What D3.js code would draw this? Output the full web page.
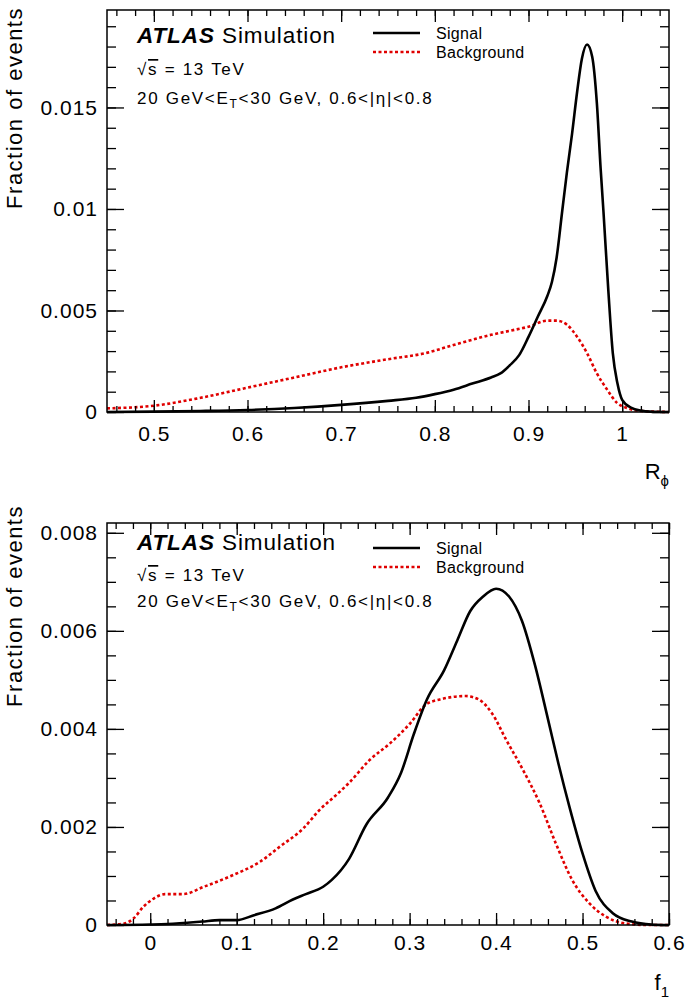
<!DOCTYPE html>
<html>
<head>
<meta charset="utf-8">
<script src="https://cdn.jsdelivr.net/npm/d3@7"></script>
<style>
body { margin: 0; background: #fff; }
text { font-family: "Liberation Sans", Arial, sans-serif; fill: #000; }
</style>
</head>
<body>
<script>
// ---- R_phi panel (top) ----
const rphiSignalX = [0.45, 0.5, 0.55, 0.6, 0.65, 0.7, 0.75, 0.78, 0.8, 0.82, 0.84, 0.86, 0.87, 0.88, 0.89, 0.9, 0.91, 0.92, 0.925, 0.93, 0.936, 0.941, 0.9465, 0.952, 0.957, 0.9625, 0.968, 0.973, 0.977, 0.98, 0.9852, 0.99, 0.995, 1.0, 1.01, 1.02, 1.03, 1.05];
const rphiSignalY = [0, 0.00002, 0.00005, 0.0001, 0.0002, 0.00035, 0.00055, 0.0007, 0.00088, 0.0011, 0.0014, 0.0017, 0.0019, 0.0023, 0.0028, 0.0037, 0.0047, 0.0057, 0.0064, 0.0076, 0.0099, 0.0118, 0.0137, 0.0158, 0.0174, 0.0181, 0.0175, 0.0152, 0.012, 0.0099, 0.006, 0.0029, 0.0014, 0.0006, 0.0002, 0.00007, 0.00002, 0];
const rphiBkgX = [0.45, 0.5, 0.55, 0.6, 0.65, 0.7, 0.75, 0.79, 0.82, 0.86, 0.88, 0.9, 0.92, 0.93, 0.941, 0.952, 0.9625, 0.973, 0.984, 0.9945, 1.005, 1.02, 1.05];
const rphiBkgY = [0.00018, 0.00031, 0.0007, 0.0012, 0.0017, 0.0022, 0.0026, 0.0029, 0.0033, 0.0038, 0.004, 0.0042, 0.0045, 0.0045, 0.0043, 0.0037, 0.0029, 0.0019, 0.0011, 0.00045, 0.0002, 0.00005, 0];
const rphiTicks = [0.5, 0.6, 0.7, 0.8, 0.9, 1];
const rphiTickLabels = ["0.5", "0.6", "0.7", "0.8", "0.9", "1"];
const rphiYTicks = [0, 0.005, 0.01, 0.015];
const rphiYTickLabels = ["0", "0.005", "0.01", "0.015"];

// ---- f1 panel (bottom) ----
const f1SignalX = [-0.05, 0, 0.02, 0.06, 0.08, 0.1, 0.12, 0.145, 0.165, 0.18, 0.2, 0.21, 0.23, 0.25, 0.275, 0.29, 0.305, 0.32, 0.34, 0.355, 0.37, 0.385, 0.4, 0.415, 0.43, 0.445, 0.46, 0.472, 0.485, 0.5, 0.515, 0.535, 0.557, 0.58, 0.6];
const f1SignalY = [0, 0.00001, 0.00002, 0.00007, 0.0001, 0.0001, 0.0002, 0.00034, 0.00052, 0.00063, 0.00078, 0.00092, 0.00135, 0.00205, 0.0026, 0.0031, 0.0039, 0.0046, 0.0052, 0.0058, 0.0064, 0.0067, 0.00686, 0.0067, 0.0062, 0.0053, 0.0042, 0.0033, 0.0024, 0.00146, 0.0007, 0.00024, 0.00007, 0.00001, 0];
const f1BkgX = [-0.05, -0.03, -0.019, -0.008, 0.004, 0.017, 0.038, 0.062, 0.096, 0.127, 0.15, 0.177, 0.196, 0.215, 0.23, 0.254, 0.277, 0.3, 0.319, 0.335, 0.365, 0.38, 0.396, 0.411, 0.43, 0.45, 0.469, 0.488, 0.508, 0.527, 0.55, 0.575, 0.6];
const f1BkgY = [0, 0.00003, 0.00014, 0.00037, 0.00054, 0.00063, 0.00063, 0.00078, 0.00102, 0.00129, 0.0016, 0.00197, 0.00235, 0.00265, 0.0029, 0.00337, 0.0037, 0.0041, 0.0045, 0.0046, 0.00467, 0.0046, 0.0043, 0.0038, 0.0032, 0.0025, 0.00167, 0.00092, 0.00044, 0.00017, 0.00003, 0, 0];
const f1Ticks = [0, 0.1, 0.2, 0.3, 0.4, 0.5, 0.6];
const f1TickLabels = ["0", "0.1", "0.2", "0.3", "0.4", "0.5", "0.6"];
const f1YTicks = [0, 0.002, 0.004, 0.006, 0.008];
const f1YTickLabels = ["0", "0.002", "0.004", "0.006", "0.008"];

const seriesNames = ["Signal", "Background"];

const W = 685, H = 1003;
const left = 107, right = 669;
const red = "#e00000";

const svg = d3.select("body").append("svg")
    .attr("width", W).attr("height", H)
    .style("display", "block");

function minorRange(domain, step) {
    const a = Math.ceil(domain[0] / step - 1e-6), b = Math.floor(domain[1] / step + 1e-6);
    return d3.range(a, b + 1).map(i => +(i * step).toFixed(6));
}

function styleAxis(g, size) {
    g.select(".domain").remove();
    g.selectAll("line").attr("stroke", "#000").attr("stroke-width", 1.3);
    g.selectAll("text")
        .attr("font-family", "Liberation Sans, Arial, sans-serif")
        .attr("font-size", size)
        .style("letter-spacing", "1px")
        .attr("fill", "#000");
}

function drawPanel(p) {
    const x = d3.scaleLinear().domain(p.xDomain).range([left, right]);
    const y = d3.scaleLinear().domain(p.yDomain).range([p.bottom, p.top]);
    const g = svg.append("g");

    // curves
    const line = d3.line().x(d => x(d[0])).y(d => y(d[1])).curve(d3.curveMonotoneX);
    const bkg = p.bkgX.map((v, i) => [v, p.bkgY[i]]);
    const sig = p.sigX.map((v, i) => [v, p.sigY[i]]);
    g.append("path").datum(bkg).attr("d", line)
        .attr("fill", "none").attr("stroke", red).attr("stroke-width", 2.6)
        .attr("stroke-dasharray", "3,2.5");
    g.append("path").datum(sig).attr("d", line)
        .attr("fill", "none").attr("stroke", "#000").attr("stroke-width", 2.6);

    // x axis ticks, bottom with labels
    const xMinor = minorRange(p.xDomain, p.xMinorStep);
    g.append("g").attr("transform", `translate(0,${p.bottom})`)
        .call(d3.axisBottom(x).tickValues(p.xTicks)
            .tickFormat(d => p.xLabels[p.xTicks.indexOf(d)])
            .tickSizeInner(-12).tickSizeOuter(0).tickPadding(p.xPad))
        .call(a => styleAxis(a, 21));
    g.append("g").attr("transform", `translate(0,${p.bottom})`)
        .call(d3.axisBottom(x).tickValues(xMinor).tickFormat("").tickSizeInner(-6).tickSizeOuter(0))
        .call(a => styleAxis(a, 21));
    g.append("g").attr("transform", `translate(0,${p.top})`)
        .call(d3.axisTop(x).tickValues(p.xTicks).tickFormat("").tickSizeInner(-12).tickSizeOuter(0))
        .call(a => styleAxis(a, 21));
    g.append("g").attr("transform", `translate(0,${p.top})`)
        .call(d3.axisTop(x).tickValues(xMinor).tickFormat("").tickSizeInner(-6).tickSizeOuter(0))
        .call(a => styleAxis(a, 21));

    // y axis ticks
    const yMinor = minorRange(p.yDomain, p.yMinorStep);
    g.append("g").attr("transform", `translate(${left},0)`)
        .call(d3.axisLeft(y).tickValues(p.yTicks)
            .tickFormat(d => p.yLabels[p.yTicks.indexOf(d)])
            .tickSizeInner(-17).tickSizeOuter(0).tickPadding(9))
        .call(a => styleAxis(a, 21));
    g.append("g").attr("transform", `translate(${left},0)`)
        .call(d3.axisLeft(y).tickValues(yMinor).tickFormat("").tickSizeInner(-9).tickSizeOuter(0))
        .call(a => styleAxis(a, 21));
    g.append("g").attr("transform", `translate(${right},0)`)
        .call(d3.axisRight(y).tickValues(p.yTicks).tickFormat("").tickSizeInner(-17).tickSizeOuter(0))
        .call(a => styleAxis(a, 21));
    g.append("g").attr("transform", `translate(${right},0)`)
        .call(d3.axisRight(y).tickValues(yMinor).tickFormat("").tickSizeInner(-9).tickSizeOuter(0))
        .call(a => styleAxis(a, 21));

    // frame
    g.append("rect").attr("x", left).attr("y", p.top)
        .attr("width", right - left).attr("height", p.bottom - p.top)
        .attr("fill", "none").attr("stroke", "#000").attr("stroke-width", 1.5);

    // y title
    g.append("text")
        .attr("transform", `translate(22,${p.yTitleEnd}) rotate(-90)`)
        .attr("text-anchor", "end")
        .attr("font-size", 22).style("letter-spacing", "1.5px")
        .text("Fraction of events");

    // x title
    const xt = g.append("text").attr("x", right).attr("y", p.xTitleY)
        .attr("text-anchor", "end").attr("font-size", 22);
    xt.append("tspan").text(p.xTitle[0]);
    xt.append("tspan").attr("dy", 7).attr("font-size", 15).text(p.xTitle[1]);

    // ATLAS label block
    const t1 = g.append("text").attr("x", 137).attr("y", p.textY[0])
        .attr("font-size", 22.5).style("letter-spacing", "0.9px");
    t1.append("tspan").attr("font-weight", "bold").attr("font-style", "italic").text("ATLAS");
    t1.append("tspan").text(" Simulation");

    const t2 = g.append("text").attr("x", 137).attr("y", p.textY[1])
        .attr("font-size", 17).style("letter-spacing", "1.7px");
    t2.append("tspan").text("\u221A");
    t2.append("tspan").style("text-decoration", "overline").text("s");
    t2.append("tspan").text(" = 13 TeV");

    const t3 = g.append("text").attr("x", 137).attr("y", p.textY[2])
        .attr("font-size", 17).style("letter-spacing", "1.7px");
    t3.append("tspan").text("20 GeV<E");
    t3.append("tspan").attr("dy", 4).attr("font-size", 12).text("T");
    t3.append("tspan").attr("dy", -4).text("<30 GeV, 0.6<|\u03B7|<0.8");

    // legend
    const styles = [
        { stroke: "#000", dash: null },
        { stroke: red, dash: "3,2.5" }
    ];
    seriesNames.forEach((name, i) => {
        const ly = p.legendY[i];
        g.append("line").attr("x1", 373).attr("x2", 420).attr("y1", ly).attr("y2", ly)
            .attr("stroke", styles[i].stroke).attr("stroke-width", 2.6)
            .attr("stroke-dasharray", styles[i].dash);
        g.append("text").attr("x", 436).attr("y", ly + 5.5)
            .attr("font-size", 16).style("letter-spacing", "0.3px")
            .text(name);
    });
}

drawPanel({
    top: 10, bottom: 412,
    xDomain: [0.45, 1.05], yDomain: [0, 0.0198],
    xTicks: rphiTicks, xLabels: rphiTickLabels, xMinorStep: 0.02, xPad: 14,
    yTicks: rphiYTicks, yLabels: rphiYTickLabels, yMinorStep: 0.001,
    sigX: rphiSignalX, sigY: rphiSignalY, bkgX: rphiBkgX, bkgY: rphiBkgY,
    yTitleEnd: 7, xTitleY: 479, xTitle: ["R", "\u03D5"],
    textY: [43, 75, 104], legendY: [33, 52]
});

drawPanel({
    top: 523, bottom: 925,
    xDomain: [-0.05, 0.6], yDomain: [0, 0.0082],
    xTicks: f1Ticks, xLabels: f1TickLabels, xMinorStep: 0.02, xPad: 10,
    yTicks: f1YTicks, yLabels: f1YTickLabels, yMinorStep: 0.0005,
    sigX: f1SignalX, sigY: f1SignalY, bkgX: f1BkgX, bkgY: f1BkgY,
    yTitleEnd: 505, xTitleY: 990, xTitle: ["f", "1"],
    textY: [550, 581, 607], legendY: [548, 567]
});
</script>
</body>
</html>
